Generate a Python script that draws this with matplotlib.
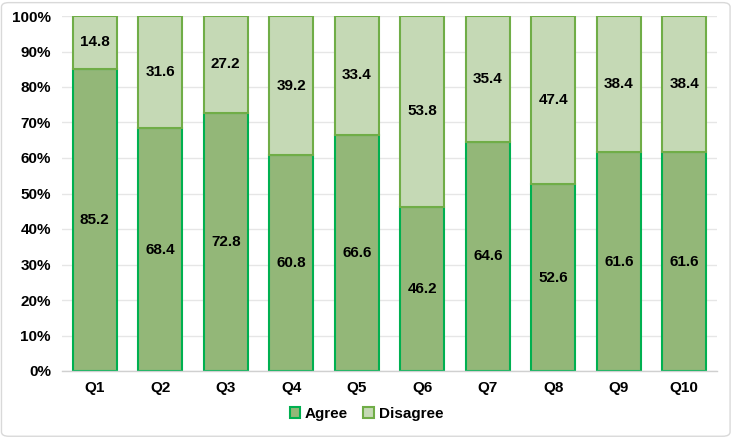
import matplotlib
matplotlib.use("Agg")
import matplotlib.pyplot as plt
from matplotlib.patches import FancyBboxPatch
import numpy as np

categories = ["Q1", "Q2", "Q3", "Q4", "Q5", "Q6", "Q7", "Q8", "Q9", "Q10"]
agree = [85.2, 68.4, 72.8, 60.8, 66.6, 46.2, 64.6, 52.6, 61.6, 61.6]
disagree = [14.8, 31.6, 27.2, 39.2, 33.4, 53.8, 35.4, 47.4, 38.4, 38.4]
yticks = [0, 10, 20, 30, 40, 50, 60, 70, 80, 90, 100]

plt.rcParams['font.family'] = ['Liberation Sans', 'DejaVu Sans']

fig = plt.figure(figsize=(7.33, 4.38), dpi=100)
ax = fig.add_axes([62/733, 1-371/438, (717-62)/733, (371-16)/438])

x = np.arange(len(categories))
w = 0.67
b1 = ax.bar(x, agree, w, color="#93B778", edgecolor="#00B050", linewidth=1.5, label="Agree", zorder=2)
b2 = ax.bar(x, disagree, w, bottom=agree, color="#C5D9B5", edgecolor="#70AD47", linewidth=1.5, label="Disagree", zorder=2)

for i in range(len(categories)):
    ax.text(x[i], agree[i]/2, f"{agree[i]:.1f}", ha="center", va="center", fontsize=11, fontweight="bold", color="black", zorder=3)
    ax.text(x[i], agree[i] + disagree[i]/2, f"{disagree[i]:.1f}", ha="center", va="center", fontsize=11, fontweight="bold", color="black", zorder=3)

ax.set_xlim(-0.5, len(categories)-0.5)
ax.set_ylim(0, 100)
ax.set_yticks(yticks)
ax.set_yticklabels([f"{t}%" for t in yticks])
ax.set_xticks(x)
ax.set_xticklabels(categories)
for lab in ax.get_xticklabels() + ax.get_yticklabels():
    lab.set_fontweight("bold")
    lab.set_fontsize(11)
ax.tick_params(length=0, pad=8)
ax.tick_params(axis='x', pad=7)
ax.grid(axis='y', color="#E6E6E6", linewidth=1, zorder=0)
for s in ["top", "right", "left"]:
    ax.spines[s].set_visible(False)
ax.spines["bottom"].set_color("#D0D0D0")
ax.spines["bottom"].set_linewidth(1)

leg = fig.legend(handles=[b1, b2], labels=["Agree", "Disagree"], loc="center", bbox_to_anchor=(0.5, 1-414/438),
                 ncol=2, frameon=False, handlelength=0.7, handleheight=0.7, handletextpad=0.3, columnspacing=1.0,
                 prop={"weight": "bold", "size": 11})

border = FancyBboxPatch((0.002, 0.004), 0.994, 0.99, boxstyle="round,pad=0,rounding_size=0.01",
                        transform=fig.transFigure, facecolor="none", edgecolor="#D9D9D9", linewidth=1)
fig.patches.append(border)

fig.savefig("out.png", dpi=100)
